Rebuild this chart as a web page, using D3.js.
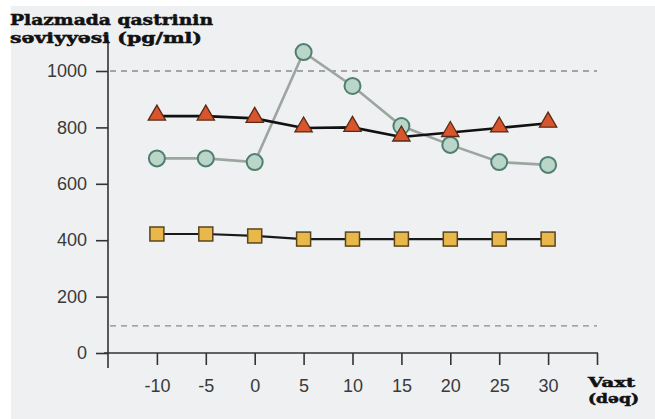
<!DOCTYPE html>
<meta charset="utf-8">
<style>
    body { margin: 0; background: #fff; }
    #chart { display: block; }
    .tick text { font-family: "Liberation Sans", Arial, sans-serif; }
</style>
<svg id="chart" width="655" height="419"></svg>
<script src="https://cdn.jsdelivr.net/npm/d3@7"></script>
<script>

    // time points (deq)
    var times = [-10, -5, 0, 5, 10, 15, 20, 25, 30];

    // gastrin level series (pg/ml)
    var triangleSeries = [840, 840, 832, 798, 800, 766, 782, 798, 815];
    var circleSeries   = [690, 690, 677, 1067, 947, 805, 738, 677, 667];
    var squareSeries   = [422, 422, 415, 404, 404, 404, 404, 404, 404];

    var yTicks = [0, 200, 400, 600, 800, 1000];
    var xTicks = [-10, -5, 0, 5, 10, 15, 20, 25, 30, 35];
    var refLines = [1000, 96];

    var svg = d3.select("#chart");

    // light gray photo background
    svg.append("rect")
        .attr("x", 11).attr("y", 6)
        .attr("width", 644).attr("height", 413)
        .attr("fill", "#eff0f2");

    var x = d3.scaleLinear().domain([-15, 35]).range([108, 597]);
    var y = d3.scaleLinear().domain([0, 1000]).range([353, 71]);

    // dashed reference lines
    svg.append("g").selectAll("line")
        .data(refLines)
        .enter().append("line")
        .attr("x1", 110).attr("x2", 597)
        .attr("y1", d => y(d)).attr("y2", d => y(d))
        .attr("stroke", "#8a8a8a")
        .attr("stroke-width", 1.3)
        .attr("stroke-dasharray", "6,5");

    // y axis
    var yAxis = d3.axisLeft(y).tickValues(yTicks).tickSize(12).tickPadding(9)
        .tickFormat(d3.format("d"));
    var gy = svg.append("g")
        .attr("transform", "translate(108,0)")
        .call(yAxis);
    gy.select(".domain").remove();
    gy.selectAll(".tick line").attr("stroke", "#333").attr("stroke-width", 1.6);
    gy.selectAll(".tick text").attr("font-size", 18).attr("fill", "#3a3a3a");
    svg.append("line")
        .attr("x1", 108).attr("x2", 108)
        .attr("y1", 40).attr("y2", 368)
        .attr("stroke", "#333").attr("stroke-width", 1.6);

    // x axis
    var xAxis = d3.axisBottom(x).tickValues(xTicks).tickSize(12).tickPadding(14)
        .tickFormat(d => d === 35 ? "" : d);
    var gx = svg.append("g")
        .attr("transform", "translate(0,353)")
        .call(xAxis);
    gx.select(".domain").remove();
    gx.selectAll(".tick line").attr("stroke", "#333").attr("stroke-width", 1.6);
    gx.selectAll(".tick text").attr("font-size", 18).attr("fill", "#3a3a3a");
    svg.append("line")
        .attr("x1", 104).attr("x2", 598)
        .attr("y1", 353).attr("y2", 353)
        .attr("stroke", "#333").attr("stroke-width", 1.6);

    var line = d3.line()
        .x((d, i) => x(times[i]))
        .y(d => y(d));

    // circles series line (gray)
    svg.append("path")
        .datum(circleSeries)
        .attr("d", line)
        .attr("fill", "none")
        .attr("stroke", "#9da59f")
        .attr("stroke-width", 2.6);

    // squares series
    svg.append("path")
        .datum(squareSeries)
        .attr("d", line)
        .attr("fill", "none")
        .attr("stroke", "#1a1a1a")
        .attr("stroke-width", 2.2);

    svg.append("g").selectAll("rect")
        .data(squareSeries)
        .enter().append("rect")
        .attr("x", (d, i) => x(times[i]) - 7)
        .attr("y", d => y(d) - 7)
        .attr("width", 14).attr("height", 14)
        .attr("fill", "#e8b84a")
        .attr("stroke", "#5a4420")
        .attr("stroke-width", 1.5);

    // triangle series line
    svg.append("path")
        .datum(triangleSeries)
        .attr("d", line)
        .attr("fill", "none")
        .attr("stroke", "#111")
        .attr("stroke-width", 2.6);

    svg.append("g").selectAll("path")
        .data(circleSeries)
        .enter().append("circle")
        .attr("cx", (d, i) => x(times[i]))
        .attr("cy", d => y(d))
        .attr("r", 8)
        .attr("fill", "#b9d6c8")
        .attr("stroke", "#4f7f70")
        .attr("stroke-width", 2);

    var tri = d3.symbol().type(d3.symbolTriangle).size(130);
    svg.append("g").selectAll("path")
        .data(triangleSeries)
        .enter().append("path")
        .attr("d", tri)
        .attr("transform", (d, i) => "translate(" + x(times[i]) + "," + (y(d) - 1) + ")")
        .attr("fill", "#d7562e")
        .attr("stroke", "#5a2a15")
        .attr("stroke-width", 1.3);

    // titles
    var titleFont = '"DejaVu Serif", "Liberation Serif", serif';
    function label(txt, tx, ty, len, size) {
        svg.append("text")
            .attr("x", tx).attr("y", ty)
            .attr("textLength", len).attr("lengthAdjust", "spacingAndGlyphs")
            .style("font-family", titleFont).style("font-weight", "bold")
            .style("font-size", size + "px")
            .attr("fill", "#111").attr("stroke", "#111").attr("stroke-width", 0.5)
            .text(txt);
    }
    label("Plazmada qastrinin", 10, 25, 203, 15);
    label("səviyyəsi (pg/ml)", 10, 43, 192, 15);
    label("Vaxt", 588, 387, 47, 13);
    label("(dəq)", 588, 403, 51, 13);

</script>
